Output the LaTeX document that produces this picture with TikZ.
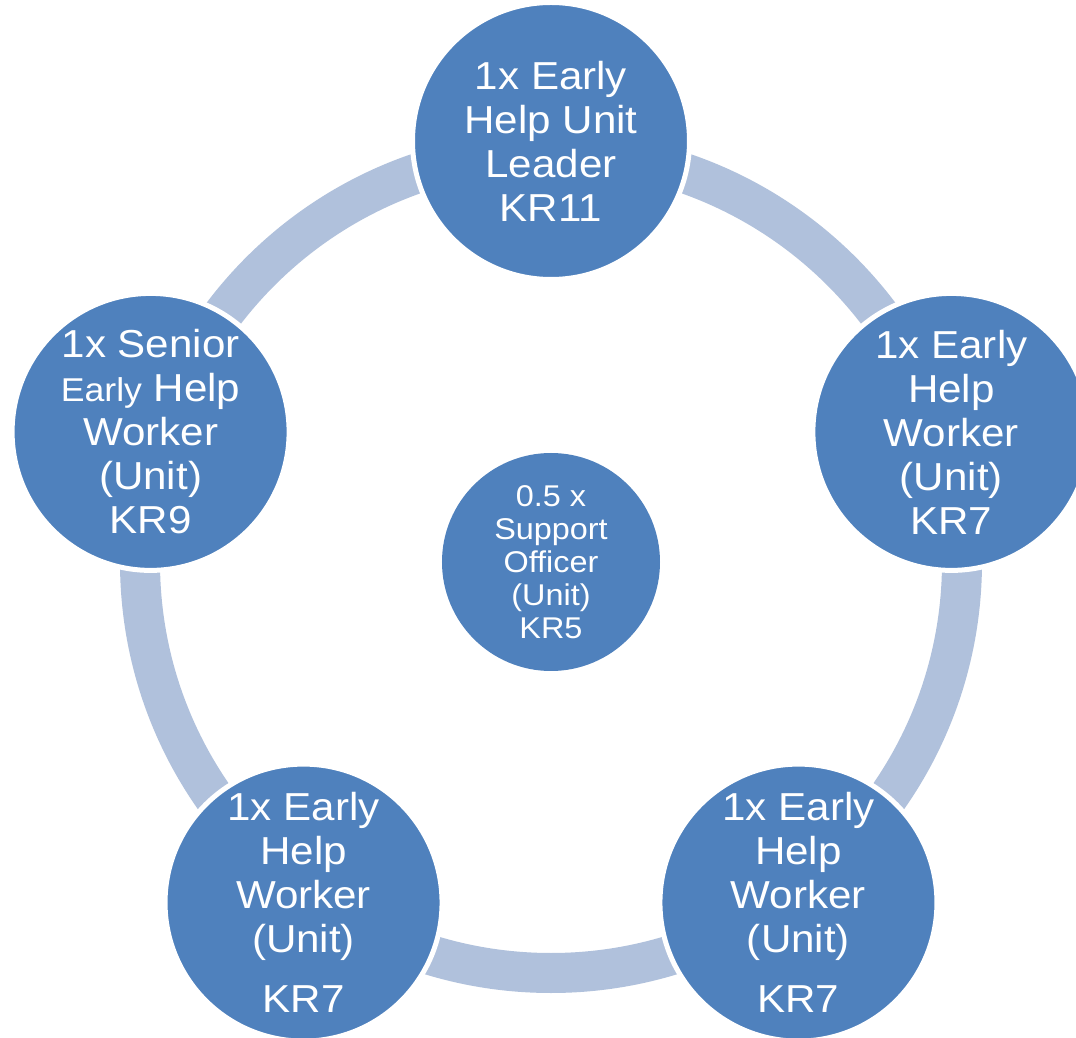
\documentclass[tikz,border=0pt]{standalone}
\usepackage{fontspec}
\setmainfont{Liberation Sans}[FakeStretch=1.08]
\usepackage[HTML]{xcolor}
\usetikzlibrary{positioning}
\definecolor{unitblue}{HTML}{4F81BD}
\definecolor{ringblue}{HTML}{B0C1DC}

\begin{document}
\begin{tikzpicture}[x=0.5pt,y=0.5pt,
  role/.style={circle,fill=unitblue,draw=white,line width=2.5pt,
    minimum size=138.5pt,inner sep=0pt,text=white,align=center,
    font=\fontsize{19.5}{22}\selectfont},
  hub/.style={circle,fill=unitblue,minimum size=109pt,inner sep=0pt,
    text=white,align=center,font=\fontsize{15}{16.5}\selectfont}]
\clip (-551,-476) rectangle (525,562);
\fill[white] (-551,-476) rectangle (525,562);

% ring behind the posts
\draw[ringblue,line width=20pt] (0,0) circle (205.5pt);

% posts round the ring
\node[role] (lead) at (90:421) {1x Early\\Help Unit\\Leader\\KR11};
\node[role] (right) at (18:421) {1x Early\\Help\\Worker\\(Unit)\\KR7};
\node[role] (lowright) at (-54:421) {1x Early\\Help\\Worker\\(Unit)\\[8pt]KR7};
\node[role] (lowleft) at (-126:421) {1x Early\\Help\\Worker\\(Unit)\\[8pt]KR7};
\node[role] (senior) at (162:421) {1x Senior\\{\fontsize{16.5}{22}\selectfont Early} Help\\Worker\\(Unit)\\KR9};

% middle
\node[hub] (support) at (0,0) {0.5 x\\Support\\Officer\\(Unit)\\KR5};
\end{tikzpicture}
\end{document}
